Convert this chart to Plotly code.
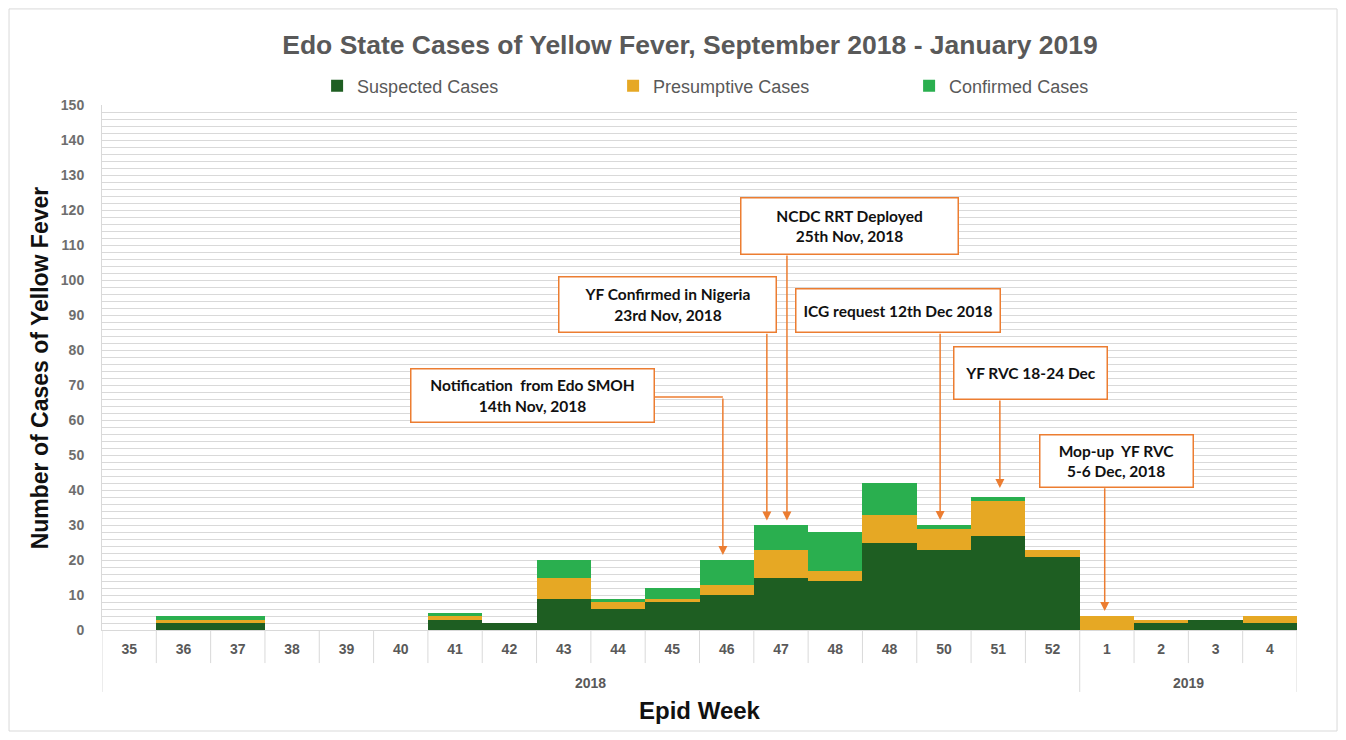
import plotly.graph_objects as go

# ---------------- data ----------------
weeks = ["35", "36", "37", "38", "39", "40", "41", "42", "43", "44", "45", "46",
         "47", "48", "48", "50", "51", "52", "1", "2", "3", "4"]
years = ["2018"] * 18 + ["2019"] * 4
suspected = [0, 2, 2, 0, 0, 0, 3, 2, 9, 6, 8, 10, 15, 14, 25, 23, 27, 21, 0, 2, 3, 2]
presumptive = [0, 1, 1, 0, 0, 0, 1, 0, 6, 2, 1, 3, 8, 3, 8, 6, 10, 2, 4, 1, 0, 2]
confirmed = [0, 1, 1, 0, 0, 0, 1, 0, 5, 1, 3, 7, 7, 11, 9, 1, 1, 0, 0, 0, 0, 0]

# callouts: text, box centre (x index, y value), box size px,
# connector start (x, y) and arrow tip (x, y) in data units
callouts = [
    dict(text="<b>Notification  from Edo SMOH</b><br><b>14th Nov, 2018</b>",
         cx=7.43, cy=67.1, w=242, h=52, elbow=(9.68, 66.6), sx=10.93, sy=66.6, tx=10.93, ty=21.4),
    dict(text="<b>YF Confirmed in Nigeria</b><br><b>23rd Nov, 2018</b>",
         cx=9.91, cy=93.0, w=216, h=54, elbow=None, sx=11.74, sy=85.1, tx=11.74, ty=31.3),
    dict(text="<b>NCDC RRT Deployed</b><br><b>25th Nov, 2018</b>",
         cx=13.26, cy=115.4, w=216, h=55, elbow=None, sx=12.11, sy=107.4, tx=12.11, ty=31.3),
    dict(text="<b>ICG request 12th Dec 2018</b>",
         cx=14.15, cy=91.3, w=203, h=42, elbow=None, sx=14.93, sy=85.1, tx=14.93, ty=31.4),
    dict(text="<b>YF RVC 18-24 Dec</b>",
         cx=16.59, cy=73.4, w=152, h=51, elbow=None, sx=16.03, sy=66.0, tx=16.03, ty=40.6),
    dict(text="<b>Mop-up  YF RVC</b><br><b>5-6 Dec, 2018</b>",
         cx=18.17, cy=48.3, w=152, h=51, elbow=None, sx=17.96, sy=40.9, tx=17.96, ty=5.4),
]

C_SUS = "#1e5e22"
C_PRE = "#e6a824"
C_CON = "#2aaf4f"
ORANGE = "#ec7d31"
GRID = "#d9d9d9"
GRAY = "#595959"
FONT = "Liberation Sans"

x_idx = list(range(len(weeks)))

fig = go.Figure()
for name, vals, col in [("Suspected Cases", suspected, C_SUS),
                        ("Presumptive Cases", presumptive, C_PRE),
                        ("Confirmed Cases", confirmed, C_CON)]:
    fig.add_trace(go.Bar(x=x_idx, y=vals, name=name, marker=dict(color=col, line=dict(width=0)),
                         width=1.0))

shapes = []
annotations = []

# category dividers below the axis
for i in range(len(weeks) + 1):
    pos = i - 0.5
    is_year_edge = (i == 0) or (i == len(weeks)) or (years[i] != years[i - 1])
    shapes.append(dict(type="line", xref="x", yref="paper", x0=pos, x1=pos,
                       y0=0, y1=-0.118 if is_year_edge else -0.063,
                       line=dict(color=GRID, width=1)))

# year labels
for yr in sorted(set(years)):
    idxs = [i for i, y in enumerate(years) if y == yr]
    annotations.append(dict(x=sum(idxs) / len(idxs), y=-0.101, xref="x", yref="paper",
                            xanchor="center", yanchor="middle",
                            text=f"<b>{yr}</b>", showarrow=False,
                            font=dict(family=FONT, size=14, color=GRAY)))

# outer chart border
shapes.append(dict(type="rect", xref="paper", yref="paper", x0=-0.0778, x1=1.0335,
                   y0=-0.1924, y1=1.183, line=dict(color=GRID, width=1), layer="below"))

# callouts
for c in callouts:
    annotations.append(dict(x=c["cx"], y=c["cy"], xref="x", yref="y", text=c["text"],
                            xanchor="center", yanchor="middle",
                            showarrow=False, width=c["w"], height=c["h"], align="center",
                            valign="middle", bgcolor="white", bordercolor=ORANGE,
                            borderwidth=1.5, borderpad=0,
                            font=dict(family="Lato", size=15.5, color="#111111")))
    if c["elbow"] is not None:
        ex, ey = c["elbow"]
        shapes.append(dict(type="line", xref="x", yref="y", x0=ex, y0=ey, x1=c["sx"], y1=c["sy"],
                           line=dict(color=ORANGE, width=1.5)))
    annotations.append(dict(x=c["tx"], y=c["ty"], xref="x", yref="y", ax=c["sx"], ay=c["sy"],
                            axref="x", ayref="y", text="", showarrow=True, arrowhead=2,
                            arrowsize=1.2, arrowwidth=1.5, arrowcolor=ORANGE, standoff=0))

# axis titles
annotations.append(dict(x=0.5, y=-0.154, xref="paper", yref="paper", text="<b>Epid Week</b>",
                        xanchor="center", yanchor="middle",
                        showarrow=False, font=dict(family=FONT, size=24, color="#111111")))
annotations.append(dict(x=-0.052, y=0.5, xref="paper", yref="paper",
                        xanchor="center", yanchor="middle",
                        text="<b>Number of Cases of Yellow Fever</b>", textangle=-90,
                        showarrow=False, font=dict(family=FONT, size=23, color="#111111")))

fig.update_layout(
    width=1330, height=724,
    margin=dict(l=94, r=41, t=97, b=102),
    paper_bgcolor="white", plot_bgcolor="white",
    barmode="stack", bargap=0,
    title=dict(text="<b>Edo State Cases of Yellow Fever, September 2018 - January 2019</b>",
               x=0.5128, xanchor="center", y=0.949, yanchor="middle",
               font=dict(family=FONT, size=26.5, color=GRAY)),
    legend=dict(orientation="h", x=0.18, xanchor="left", y=1.036, yanchor="middle",
                entrywidth=251, entrywidthmode="pixels", traceorder="normal",
                font=dict(family=FONT, size=18, color=GRAY), bgcolor="rgba(0,0,0,0)"),
    xaxis=dict(range=[-0.5, len(weeks) - 0.5], tickmode="array", tickvals=x_idx, ticktext=weeks,
               showgrid=False, zeroline=False, showline=True, linecolor=GRID, linewidth=1,
               ticks="", ticklabelstandoff=6,
               tickfont=dict(family=FONT, size=14, color=GRAY, weight="bold")),
    yaxis=dict(range=[0, 150], dtick=10, tick0=0, showgrid=True, gridcolor=GRID, gridwidth=1,
               minor=dict(dtick=2, showgrid=True, gridcolor=GRID, gridwidth=1),
               zeroline=False, showline=True, linecolor=GRID, linewidth=1,
               ticks="", ticklabelstandoff=14,
               tickfont=dict(family=FONT, size=14, color="#6e6e6e", weight="bold")),
    shapes=shapes,
    annotations=annotations,
    showlegend=True,
)

fig.write_html("out.html")
